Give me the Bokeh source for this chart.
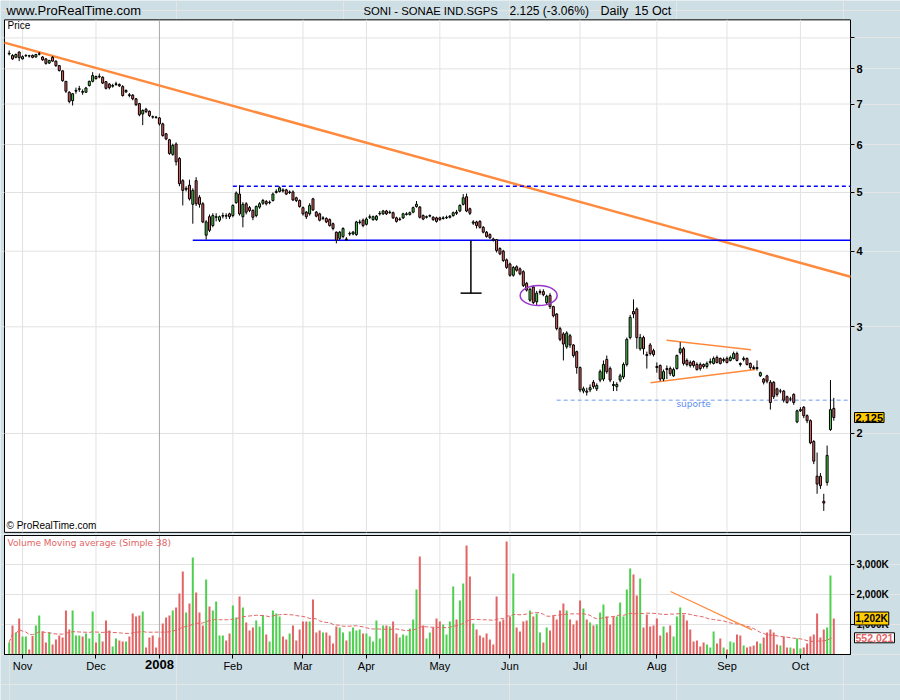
import pandas as pd
from bokeh.plotting import figure
from bokeh.layouts import column
from bokeh.models import Range1d, FixedTicker, Label, ColumnDataSource, LogAxis, LinearAxis
from bokeh.embed import file_html
from bokeh.resources import INLINE

# ---------------- data ----------------
opens = [
    8.47, 8.42, 8.36, 8.53, 8.31, 8.41, 8.41, 8.42, 8.37, 8.46,
    8.37, 8.31, 8.18, 8.36, 8.24, 8.10, 7.94, 7.63, 7.32, 7.09,
    7.35, 7.40, 7.34, 7.32, 7.51, 7.63, 7.77, 7.76, 7.75, 7.62,
    7.55, 7.49, 7.54, 7.54, 7.48, 7.33, 7.25, 7.24, 7.14, 7.01,
    6.74, 6.86, 6.81, 6.67, 6.66, 6.64, 6.49, 6.25, 6.11, 5.78,
    6.01, 5.69, 5.23, 5.06, 5.14, 4.78, 5.23, 4.91, 4.79, 4.25,
    4.56, 4.41, 4.55, 4.50, 4.57, 4.58, 4.61, 4.58, 4.81, 4.97,
    4.56, 4.79, 4.72, 4.67, 4.58, 4.73, 4.80, 4.83, 4.81, 4.85,
    5.00, 5.02, 5.05, 5.05, 5.00, 5.01, 4.90, 4.85, 4.72, 4.64,
    4.61, 4.88, 4.64, 4.61, 4.53, 4.53, 4.51, 4.44, 4.30, 4.20,
    4.23, 4.19, 4.27, 4.27, 4.26, 4.46, 4.50, 4.43, 4.55, 4.51,
    4.51, 4.61, 4.61, 4.66, 4.63, 4.63, 4.54, 4.51, 4.54, 4.60,
    4.60, 4.64, 4.74, 4.73, 4.58, 4.55, 4.57, 4.55, 4.54, 4.54,
    4.53, 4.54, 4.55, 4.58, 4.64, 4.66, 4.78, 4.92, 4.70, 4.45,
    4.47, 4.48, 4.38, 4.30, 4.26, 4.19, 4.18, 4.04, 4.00, 3.87,
    3.81, 3.65, 3.77, 3.74, 3.70, 3.54, 3.32, 3.49, 3.30, 3.42,
    3.43, 3.29, 3.38, 3.24, 3.15, 2.98, 2.92, 2.78, 2.90, 2.80,
    2.73, 2.57, 2.35, 2.35, 2.36, 2.43, 2.37, 2.45, 2.46, 2.65,
    2.56, 2.41, 2.39, 2.45, 2.48, 2.60, 2.88, 3.18, 3.21, 2.76,
    2.88, 2.70, 2.80, 2.74, 2.58, 2.59, 2.46, 2.56, 2.56, 2.49,
    2.56, 2.72, 2.76, 2.64, 2.62, 2.63, 2.60, 2.60, 2.60, 2.58,
    2.62, 2.61, 2.67, 2.66, 2.64, 2.66, 2.64, 2.66, 2.71, 2.61,
    2.65, 2.66, 2.61, 2.57, 2.57, 2.49, 2.46, 2.49, 2.43, 2.43,
    2.37, 2.35, 2.35, 2.30, 2.28, 2.32, 2.09, 2.18, 2.21, 2.14,
    2.10, 1.94, 1.70, 1.70, 1.545, 1.66, 2.03, 2.20,
]
highs = [
    8.58, 8.46, 8.48, 8.55, 8.42, 8.46, 8.44, 8.45, 8.47, 8.53,
    8.40, 8.33, 8.28, 8.40, 8.26, 8.12, 7.96, 7.64, 7.35, 7.30,
    7.45, 7.50, 7.40, 7.47, 7.65, 7.90, 7.80, 7.86, 7.78, 7.64,
    7.58, 7.56, 7.62, 7.57, 7.52, 7.40, 7.30, 7.27, 7.16, 7.03,
    6.86, 6.90, 6.83, 6.70, 6.69, 6.66, 6.52, 6.27, 6.13, 6.02,
    6.05, 5.72, 5.26, 5.12, 5.25, 5.08, 5.30, 4.95, 4.82, 4.50,
    4.60, 4.62, 4.62, 4.58, 4.63, 4.62, 4.63, 4.78, 5.02, 5.14,
    4.82, 4.82, 4.75, 4.69, 4.76, 4.82, 4.88, 4.86, 4.85, 5.00,
    5.06, 5.12, 5.08, 5.07, 5.04, 5.04, 4.92, 4.87, 4.74, 4.66,
    4.80, 4.90, 4.66, 4.63, 4.57, 4.55, 4.53, 4.46, 4.31, 4.32,
    4.38, 4.22, 4.31, 4.32, 4.49, 4.51, 4.53, 4.55, 4.60, 4.58,
    4.59, 4.66, 4.68, 4.68, 4.67, 4.65, 4.56, 4.55, 4.63, 4.64,
    4.65, 4.74, 4.84, 4.75, 4.60, 4.58, 4.60, 4.57, 4.56, 4.56,
    4.57, 4.58, 4.59, 4.65, 4.68, 4.78, 4.97, 4.98, 4.72, 4.50,
    4.49, 4.50, 4.40, 4.32, 4.28, 4.21, 4.19, 4.06, 4.02, 3.89,
    3.83, 3.78, 3.79, 3.76, 3.72, 3.56, 3.48, 3.51, 3.44, 3.46,
    3.46, 3.39, 3.41, 3.25, 3.16, 3.00, 2.94, 2.95, 2.92, 2.81,
    2.74, 2.58, 2.39, 2.38, 2.41, 2.45, 2.42, 2.55, 2.64, 2.69,
    2.58, 2.44, 2.43, 2.51, 2.62, 2.88, 3.14, 3.33, 3.23, 2.92,
    2.90, 2.73, 2.82, 2.76, 2.62, 2.60, 2.55, 2.59, 2.58, 2.57,
    2.70, 2.83, 2.78, 2.66, 2.64, 2.64, 2.62, 2.62, 2.61, 2.63,
    2.66, 2.68, 2.69, 2.67, 2.67, 2.68, 2.69, 2.73, 2.73, 2.62,
    2.68, 2.67, 2.62, 2.59, 2.64, 2.53, 2.47, 2.50, 2.45, 2.44,
    2.38, 2.37, 2.36, 2.31, 2.30, 2.33, 2.19, 2.21, 2.22, 2.15,
    2.11, 1.95, 1.86, 1.72, 1.59, 1.91, 2.45, 2.29,
]
lows = [
    8.42, 8.28, 8.33, 8.24, 8.29, 8.37, 8.35, 8.33, 8.35, 8.42,
    8.25, 8.13, 8.15, 8.22, 8.06, 7.92, 7.62, 7.30, 7.02, 6.96,
    7.28, 7.33, 7.25, 7.30, 7.48, 7.60, 7.68, 7.72, 7.55, 7.40,
    7.40, 7.45, 7.50, 7.47, 7.20, 7.30, 7.18, 7.10, 6.95, 6.68,
    6.46, 6.76, 6.66, 6.62, 6.62, 6.45, 6.18, 6.10, 5.77, 5.75,
    5.54, 5.12, 4.76, 5.02, 4.85, 4.44, 4.75, 4.72, 4.45, 4.18,
    4.30, 4.38, 4.48, 4.47, 4.53, 4.52, 4.52, 4.55, 4.79, 4.58,
    4.38, 4.60, 4.64, 4.50, 4.55, 4.70, 4.77, 4.76, 4.78, 4.83,
    4.98, 5.00, 5.00, 4.95, 4.97, 4.84, 4.82, 4.72, 4.58, 4.52,
    4.58, 4.66, 4.55, 4.48, 4.50, 4.45, 4.39, 4.33, 4.12, 4.17,
    4.20, 4.16, 4.24, 4.25, 4.24, 4.43, 4.38, 4.41, 4.52, 4.49,
    4.49, 4.58, 4.59, 4.59, 4.61, 4.52, 4.46, 4.49, 4.52, 4.58,
    4.58, 4.62, 4.72, 4.53, 4.50, 4.53, 4.55, 4.49, 4.46, 4.49,
    4.51, 4.52, 4.53, 4.56, 4.59, 4.64, 4.76, 4.64, 4.59, 4.42,
    4.36, 4.36, 4.28, 4.21, 4.19, 4.15, 3.98, 3.94, 3.84, 3.74,
    3.63, 3.63, 3.70, 3.65, 3.49, 3.43, 3.30, 3.27, 3.26, 3.39,
    3.37, 3.27, 3.21, 3.11, 2.96, 2.84, 2.64, 2.76, 2.77, 2.67,
    2.51, 2.34, 2.33, 2.31, 2.34, 2.37, 2.35, 2.43, 2.44, 2.51,
    2.43, 2.35, 2.35, 2.43, 2.46, 2.58, 2.86, 3.10, 2.76, 2.74,
    2.70, 2.56, 2.69, 2.68, 2.52, 2.44, 2.44, 2.46, 2.49, 2.48,
    2.55, 2.70, 2.59, 2.58, 2.57, 2.57, 2.54, 2.54, 2.56, 2.56,
    2.60, 2.60, 2.61, 2.60, 2.62, 2.61, 2.63, 2.65, 2.63, 2.58,
    2.63, 2.59, 2.55, 2.55, 2.54, 2.48, 2.41, 2.42, 2.19, 2.28,
    2.30, 2.33, 2.25, 2.24, 2.26, 2.23, 2.08, 2.17, 2.12, 2.08,
    1.92, 1.78, 1.59, 1.62, 1.49, 1.64, 2.02, 2.10,
]
closes = [
    8.49, 8.31, 8.45, 8.35, 8.38, 8.42, 8.40, 8.36, 8.45, 8.47,
    8.28, 8.17, 8.26, 8.24, 8.10, 7.95, 7.65, 7.35, 7.07, 7.28,
    7.37, 7.42, 7.32, 7.44, 7.63, 7.80, 7.71, 7.78, 7.58, 7.43,
    7.45, 7.51, 7.56, 7.50, 7.23, 7.37, 7.23, 7.14, 6.98, 6.72,
    6.83, 6.80, 6.70, 6.66, 6.65, 6.49, 6.21, 6.13, 5.80, 5.98,
    5.62, 5.17, 5.04, 5.08, 4.88, 5.04, 4.79, 4.78, 4.47, 4.47,
    4.33, 4.58, 4.56, 4.56, 4.58, 4.57, 4.56, 4.76, 4.99, 4.61,
    4.78, 4.64, 4.67, 4.55, 4.74, 4.79, 4.85, 4.79, 4.82, 4.97,
    5.02, 5.09, 5.03, 4.97, 5.01, 4.86, 4.85, 4.74, 4.61, 4.56,
    4.76, 4.68, 4.57, 4.50, 4.54, 4.47, 4.41, 4.36, 4.17, 4.30,
    4.36, 4.18, 4.28, 4.30, 4.47, 4.47, 4.41, 4.52, 4.56, 4.56,
    4.57, 4.62, 4.66, 4.61, 4.64, 4.54, 4.48, 4.52, 4.61, 4.61,
    4.63, 4.72, 4.78, 4.55, 4.52, 4.56, 4.58, 4.51, 4.48, 4.51,
    4.54, 4.55, 4.57, 4.63, 4.62, 4.76, 4.90, 4.66, 4.62, 4.47,
    4.41, 4.38, 4.30, 4.23, 4.21, 4.17, 4.01, 3.96, 3.86, 3.76,
    3.65, 3.76, 3.72, 3.67, 3.51, 3.45, 3.46, 3.29, 3.41, 3.43,
    3.39, 3.37, 3.24, 3.13, 2.98, 2.86, 2.81, 2.93, 2.80, 2.69,
    2.57, 2.36, 2.37, 2.34, 2.38, 2.39, 2.40, 2.53, 2.60, 2.53,
    2.45, 2.40, 2.41, 2.49, 2.60, 2.86, 3.11, 3.15, 2.88, 2.88,
    2.76, 2.69, 2.71, 2.70, 2.57, 2.46, 2.53, 2.55, 2.51, 2.55,
    2.69, 2.76, 2.61, 2.60, 2.59, 2.59, 2.55, 2.56, 2.58, 2.61,
    2.63, 2.66, 2.62, 2.61, 2.65, 2.62, 2.67, 2.71, 2.64, 2.60,
    2.66, 2.60, 2.57, 2.56, 2.56, 2.52, 2.43, 2.44, 2.25, 2.30,
    2.32, 2.35, 2.27, 2.25, 2.28, 2.25, 2.18, 2.19, 2.14, 2.10,
    1.93, 1.80, 1.65, 1.64, 1.535, 1.84, 2.19, 2.125,
]
# daily volume, millions of shares
volume_m = [
    0.40, 0.97, 0.73, 1.20, 0.60, 0.60, 0.17, 0.62, 0.97, 1.30,
    0.77, 0.40, 0.73, 0.33, 0.50, 0.63, 0.57, 1.47, 0.83, 1.47,
    0.63, 0.63, 0.60, 0.70, 0.53, 1.43, 0.40, 0.70, 0.43, 1.13,
    0.80, 0.27, 0.53, 0.47, 0.43, 0.43, 0.60, 1.37, 1.27, 1.30,
    1.43, 0.23, 0.57, 0.63, 0.23,
    0.57, 1.03, 1.23, 1.30, 1.47, 1.57, 2.03, 2.77, 1.40, 1.70,
    3.23, 2.07, 1.40, 0.97, 2.50, 1.60, 1.47, 1.77, 0.63, 0.63,
    0.47, 0.70, 1.63, 1.23, 1.93, 1.57, 1.07, 0.80, 0.90, 1.13,
    0.93, 1.30, 0.67, 0.43, 1.47, 1.37, 1.27, 0.60, 0.50, 0.70,
    0.97, 0.47, 0.83, 1.10, 1.10, 1.10, 1.83, 0.73, 0.80, 0.73,
    0.73, 0.63, 0.37, 0.93, 0.90, 0.73, 0.47, 0.77, 0.90, 0.80,
    0.83, 0.70, 0.70, 0.60, 0.43, 1.13, 0.53, 0.97, 0.97, 0.93,
    1.10, 0.70, 0.57, 0.67, 0.63, 0.87, 1.17, 2.17, 3.27, 0.97,
    0.53, 0.73, 0.90, 1.20, 1.10, 1.00, 0.67, 1.10,
    2.27,
    1.17, 1.80, 2.37, 3.63, 2.60, 1.03, 0.83, 0.63, 0.57, 0.70,
    0.50, 0.33, 1.93, 1.10, 1.17, 3.77, 1.27, 2.70, 0.90, 0.77,
    1.10, 1.13, 1.47, 1.27, 1.37, 0.73, 0.40, 0.90, 0.80, 1.30,
    1.17, 1.47, 1.70, 1.47, 1.17, 1.00, 1.13, 1.80, 1.53, 1.17,
    1.07, 0.97, 1.00, 1.40, 1.67, 1.27, 1.00, 1.27, 1.27, 1.73,
    1.27, 2.17, 2.87, 2.67, 1.97, 2.53, 0.90, 1.33, 0.93, 0.97,
    1.20, 0.63, 0.93, 0.73, 0.97, 0.60, 1.27, 1.57, 1.33, 1.13,
    0.83, 0.43, 0.47, 0.27, 0.40, 0.33, 0.23, 0.77, 0.37, 0.53,
    0.23, 0.17, 0.43, 0.40, 0.67, 0.63, 0.30, 0.23, 0.27, 0.30,
    0.43, 0.37, 0.57, 0.73, 0.83, 0.73, 0.33, 0.30, 0.60, 0.23,
    0.23, 0.20, 0.53, 0.20, 0.23, 0.37, 0.60, 0.67, 1.37, 0.57,
    0.83, 0.90, 2.63, 1.20,
]
month_idx = [4, 26, 45, 67, 88, 107, 129, 150, 171, 194, 215, 237]
month_labels = ["Nov", "Dec", "2008", "Feb", "Mar", "Apr", "May", "Jun", "Jul", "Aug", "Sep", "Oct"]
year_idx = 45
price_ticks = [2, 3, 4, 5, 6, 7, 8, 9]
price_tick_labels = ["2", "3", "4", "5", "6", "7", "8", ""]
vol_ticks = [1, 2, 3]
vol_tick_labels = ["1,000K", "2,000K", "3,000K"]
ma_window = 38

# drawn annotations (trend lines, levels)
trend_x = [-1.4, 252.0]
trend_y = [8.84, 3.63]
resist_level, resist_start = 5.12, 67.0
support_level, support_start = 4.17, 55.0
suporte_level, suporte_start = 2.27, 164.0
tri_up_x, tri_up_y = [196.9, 222.2], [2.85, 2.75]
tri_lo_x, tri_lo_y = [192.1, 223.5], [2.425, 2.55]
measure_x, measure_top, measure_bottom, measure_x0, measure_x1 = 138.3, 4.17, 3.41, 135.2, 141.5
ellipse_x, ellipse_y = 158.6, 3.38
vol_trend_x, vol_trend_y = [198.1, 222.5], [2.10, 0.82]

# plot areas (data units) and the full canvas extents around them
x_lo, x_hi = -1.4, 252.0            # plotted area
x_view = (-2.6, 266.98)             # whole 900px width (incl. right scale area)
price_lo, price_hi = 1.373, 9.64    # plotted area
price_view = (1.362, 10.376)        # whole upper canvas (incl. header row)
vol_hi = 3.967
vol_view = (-1.533, 4.0)

# ---------------- styling ----------------
BG = "#cedee5"
GREEN = "#4fcf4f"
RED = "#e26464"
ORANGE = "#ff8a3d"
GRID = "#e2e2e2"
YEARC = "#a8a8a8"
FONT = "Liberation Sans"
W = 900
H1, H2 = 534, 166

n = len(closes)
idx = list(range(n))
colors = [GREEN if c >= o else RED for o, c in zip(opens, closes)]
src = ColumnDataSource(dict(
    x=idx, high=highs, low=lows,
    top=[max(o, c) for o, c in zip(opens, closes)],
    bottom=[min(o, c) for o, c in zip(opens, closes)],
    color=colors, vol=volume_m,
))
vol_ma = pd.Series(volume_m).rolling(ma_window, min_periods=1).mean().tolist()
grid_months = [m for m in month_idx if m != year_idx]

xr = Range1d(*x_view)


def style_axis(a, size, bold=True):
    a.major_label_text_font = FONT
    a.major_label_text_font_size = size
    a.major_label_text_font_style = "bold" if bold else "normal"
    a.major_label_text_color = "black"
    a.major_tick_out = 4
    a.major_tick_in = 0
    a.minor_tick_out = 0
    a.minor_tick_in = 0
    a.major_tick_line_color = "black"
    a.axis_line_color = None
    a.major_label_standoff = 2


# ---------------- price panel ----------------
p = figure(frame_width=W, frame_height=H1, x_range=xr, y_range=Range1d(*price_view),
           y_axis_type="log", y_axis_location=None, x_axis_location=None,
           output_backend="svg", toolbar_location=None, min_border=0,
           background_fill_color=BG, border_fill_color=BG, outline_line_color=None)

p.quad(left=[x_lo], right=[x_hi], bottom=[price_lo], top=[price_hi],
       fill_color="white", line_color="black", line_width=1)
p.segment(x0=[x_lo] * len(price_ticks), x1=[x_hi] * len(price_ticks), y0=price_ticks, y1=price_ticks,
          line_color=GRID, line_width=1)
p.segment(x0=grid_months, x1=grid_months, y0=[price_lo] * len(grid_months), y1=[price_hi] * len(grid_months),
          line_color=GRID, line_width=1)
p.segment(x0=[year_idx], x1=[year_idx], y0=[price_lo], y1=[price_hi], line_color=YEARC, line_width=1)

pax = LogAxis(fixed_location=x_hi, ticker=FixedTicker(ticks=price_ticks),
              major_label_overrides={t: l for t, l in zip(price_ticks, price_tick_labels)})
style_axis(pax, "11px")
p.add_layout(pax, "right")

# levels and trend lines
p.line(trend_x, trend_y, line_color=ORANGE, line_width=2.5)
p.line([resist_start, x_hi], [resist_level, resist_level], line_color="#0000ff", line_width=1.5, line_dash="4 3")
p.line([support_start, x_hi], [support_level, support_level], line_color="#0000ff", line_width=1.5)
p.line([suporte_start, x_hi], [suporte_level, suporte_level], line_color="#6f9af0", line_width=1, line_dash="4 3")
p.line(tri_up_x, tri_up_y, line_color=ORANGE, line_width=1.5)
p.line(tri_lo_x, tri_lo_y, line_color=ORANGE, line_width=1.5)
p.segment(x0=[measure_x, measure_x0], y0=[measure_top, measure_bottom],
          x1=[measure_x, measure_x1], y1=[measure_bottom, measure_bottom],
          line_color="black", line_width=1.5)

# candles
p.segment(x0="x", y0="low", x1="x", y1="high", source=src, line_color="black", line_width=1)
p.vbar(x="x", width=0.6, top="top", bottom="bottom", source=src,
       fill_color="color", line_color="black", line_width=1)

p.ellipse(x=[ellipse_x], y=[ellipse_y], width=37, height=20, width_units="screen", height_units="screen",
          fill_color=None, line_color="#9933cc", line_width=1.5)

p.add_layout(Label(x=205, y=2.233, text="suporte", text_font="DejaVu Sans", text_font_size="9px",
                   text_color="#5b8cf0", text_align="center", text_baseline="middle"))
p.add_layout(Label(x=7, y=H1 - 25, x_units="screen", y_units="screen", text="Price", text_font=FONT,
                   text_font_size="10px", text_color="black", text_baseline="middle"))
p.add_layout(Label(x=6, y=H1 - 525, x_units="screen", y_units="screen", text="© ProRealTime.com",
                   text_font=FONT, text_font_size="10px", text_color="black", text_baseline="middle"))
header = [("www.ProRealTime.com", 6, "13px"), ("SONI - SONAE IND.SGPS", 363, "11.3px"),
          ("2.125 (-3.06%)", 509, "12px"), ("Daily", 600, "12.5px"), ("15 Oct", 634, "12.5px")]
for txt, hx, hs in header:
    p.add_layout(Label(x=hx, y=H1 - 10, x_units="screen", y_units="screen", text=txt, text_font=FONT,
                       text_font_size=hs, text_color="black", text_baseline="middle"))
p.add_layout(Label(x=854, y=closes[-1], x_units="screen", text="2.125", text_font=FONT,
                   text_font_size="11px", text_font_style="bold", text_color="black",
                   text_baseline="middle", background_fill_color="#ffcc00",
                   border_line_color="black", padding=1))

# ---------------- volume panel ----------------
v = figure(frame_width=W, frame_height=H2, x_range=xr, y_range=Range1d(*vol_view),
           y_axis_location=None, x_axis_location=None,
           output_backend="svg", toolbar_location=None, min_border=0,
           background_fill_color=BG, border_fill_color=BG, outline_line_color=None)
v.quad(left=[x_lo], right=[x_hi], bottom=[0], top=[vol_hi],
       fill_color="white", line_color="black", line_width=1)
v.segment(x0=[x_lo] * len(vol_ticks), x1=[x_hi] * len(vol_ticks), y0=vol_ticks, y1=vol_ticks,
          line_color=GRID, line_width=1)
v.segment(x0=grid_months, x1=grid_months, y0=[0] * len(grid_months), y1=[vol_hi] * len(grid_months),
          line_color=GRID, line_width=1)
v.segment(x0=[year_idx], x1=[year_idx], y0=[0], y1=[vol_hi], line_color=YEARC, line_width=1)

vy = LinearAxis(fixed_location=x_hi, ticker=FixedTicker(ticks=vol_ticks),
                major_label_overrides={t: l for t, l in zip(vol_ticks, vol_tick_labels)})
style_axis(vy, "10px")
v.add_layout(vy, "right")
vx = LinearAxis(fixed_location=0, ticker=FixedTicker(ticks=month_idx),
                major_label_overrides={t: ("" if t == year_idx else l) for t, l in zip(month_idx, month_labels)})
style_axis(vx, "11px", bold=False)
vx.major_label_standoff = 1
v.add_layout(vx, "below")

v.vbar(x="x", width=0.6, top="vol", bottom=0, source=src, fill_color="color", line_color=None)
v.line(idx, vol_ma, line_color=RED, line_width=1, line_dash="4 2")
v.line(vol_trend_x, vol_trend_y, line_color=ORANGE, line_width=1.2)
v.quad(left=[x_lo], right=[x_hi], bottom=[0], top=[vol_hi],
       fill_color=None, line_color="black", line_width=1)

v.add_layout(Label(x=7, y=H2 - 8, x_units="screen", y_units="screen", text="Volume Moving average (Simple 38)",
                   text_font="DejaVu Sans", text_font_size="9px", text_color=RED, text_baseline="middle"))
v.add_layout(Label(x=month_idx[month_labels.index("2008")], y=H2 - 130, y_units="screen", text="2008",
                   text_font=FONT, text_font_size="13px", text_font_style="bold", text_color="black",
                   text_align="center", text_baseline="middle"))
v.add_layout(Label(x=854, y=volume_m[-1], x_units="screen", text="1,202K", text_font=FONT,
                   text_font_size="10px", text_font_style="bold", text_color="black",
                   text_baseline="middle", background_fill_color="#ffcc00",
                   border_line_color="black", padding=1))
v.add_layout(Label(x=854, y=vol_ma[-1], x_units="screen", text="552,021", text_font=FONT,
                   text_font_size="10.5px", text_font_style="bold", text_color=RED,
                   text_baseline="middle", background_fill_color="white",
                   border_line_color="black", padding=1))

layout = column(p, v, spacing=0)
open("out.html", "w").write(file_html(layout, INLINE))
